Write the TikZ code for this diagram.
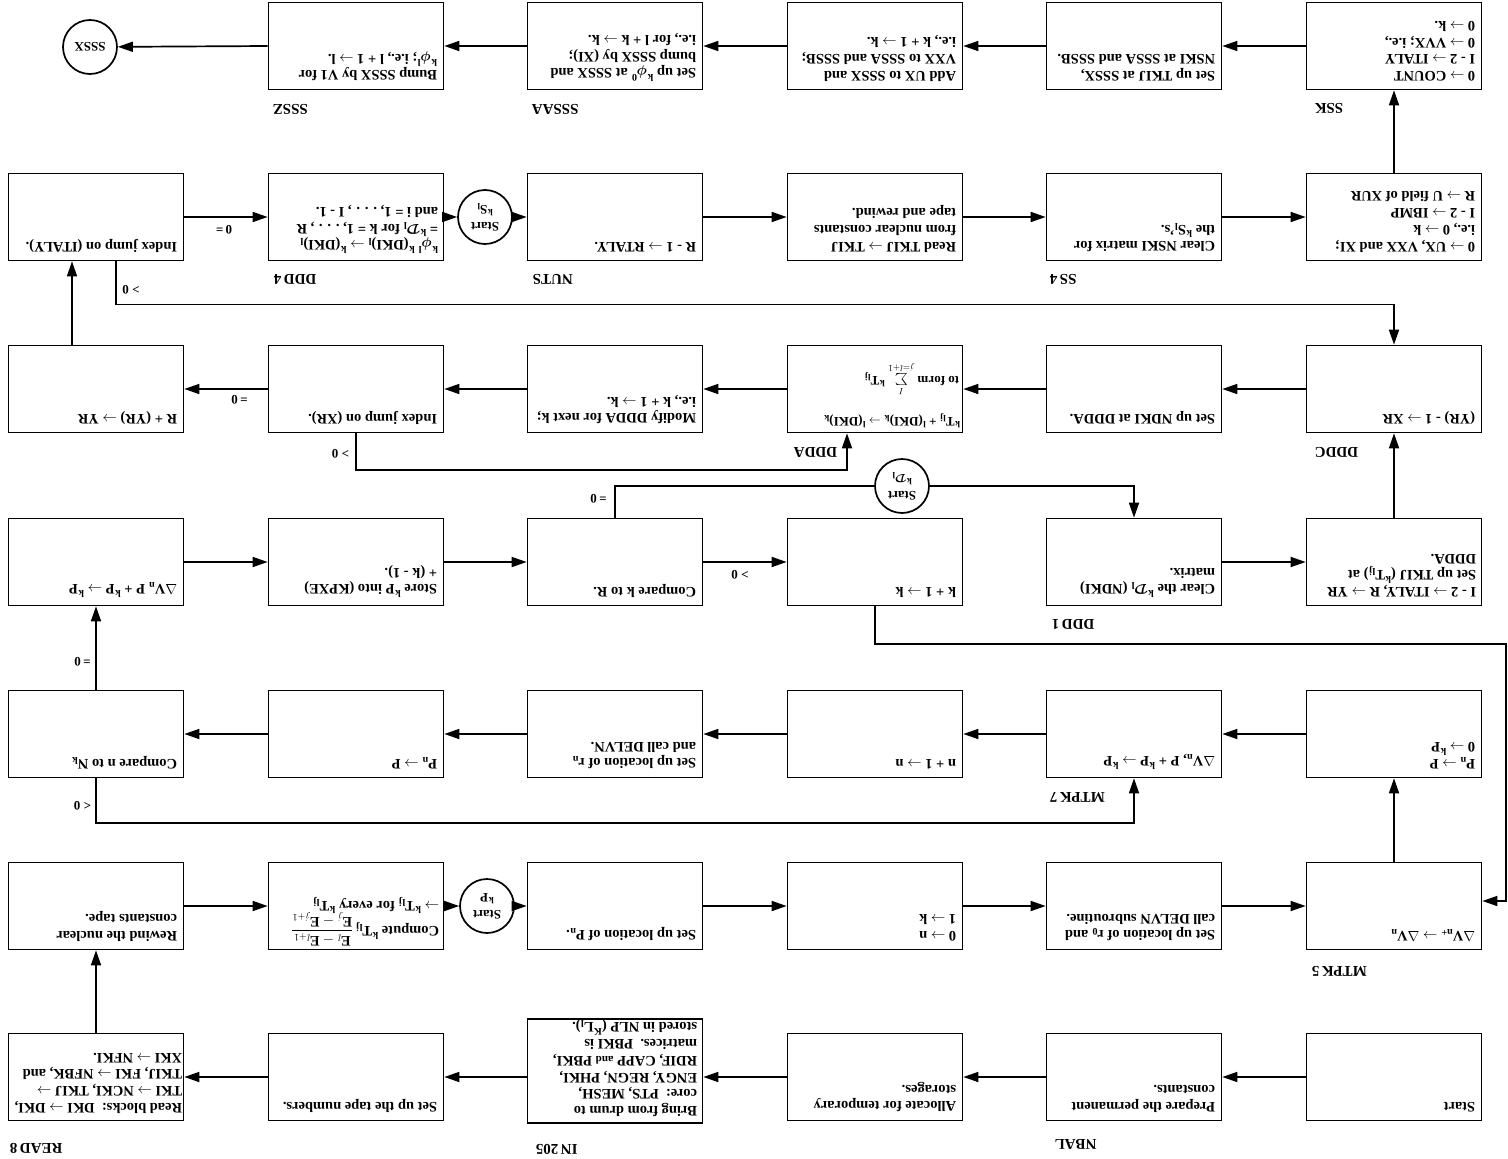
\documentclass[tikz,border=0pt]{standalone}
\usepackage{amsmath}
\usepackage{fontspec}
\setmainfont{Liberation Serif}
\usetikzlibrary{arrows.meta,calc}
\newcommand\myto{\ensuremath{\rightarrow}}
\newcommand\ks{\textsuperscript{k}}
\newcommand\kT{\textsuperscript{k}T\textsubscript{lj}}
\tikzset{
  bx/.style={draw, line width=1.7pt, minimum width=175pt, minimum height=87pt, inner sep=0pt},
  tx/.style={rotate=180, anchor=north west, align=left, inner sep=0pt, font=\bfseries\fontsize{14.5}{16.7}\selectfont},
  lb/.style={rotate=180, anchor=south east, inner sep=0pt, font=\bfseries\fontsize{15}{15}\selectfont},
  cnd/.style={rotate=180, inner sep=0pt, font=\bfseries\fontsize{13}{13}\selectfont},
  crc/.style={draw, circle, line width=1.7pt, minimum size=54pt, inner sep=0pt, fill=white, rotate=180, align=center, font=\bfseries\fontsize{13}{17}\selectfont},
  ln/.style={line width=1.7pt},
  arr/.style={ln, -{Triangle[length=15pt,width=10pt]}}
}
\begin{document}
\begin{tikzpicture}[x=1pt,y=-1pt]
\fill[white] (0,0) rectangle (1508,1159);
\useasboundingbox (0,0) rectangle (1508,1159);

% ---------- row 1 ----------
\node[bx] (sssz) at (356,46) {};
\node[bx] (sssaa) at (615,46) {};
\node[bx] (addux) at (875,46) {};
\node[bx] (sttk) at (1134,46) {};
\node[bx] (ssk) at (1394,46) {};
\node[crc] (sssx) at (90,47) {SSSX};
% ---------- row 2 ----------
\node[bx] (ital) at (96,217) {};
\node[bx] (dd4) at (356,217) {};
\node[crc] (cS) at (485,217) {Start\\\ks S\textsubscript{l}};
\node[bx] (nuts) at (615,217) {};
\node[bx] (rtk) at (875,217) {};
\node[bx] (ss4) at (1134,217) {};
\node[bx] (ux) at (1394,217) {};
% ---------- row 3 ----------
\node[bx] (ryr) at (96,389) {};
\node[bx] (ixr) at (356,389) {};
\node[bx] (mod) at (615,389) {};
\node[bx] (ddda) at (875,389) {};
\node[bx] (ndki) at (1134,389) {};
\node[bx] (ddc) at (1394,389) {};
% ---------- row 4 ----------
\node[bx] (dv) at (96,562) {};
\node[bx] (store) at (356,562) {};
\node[bx] (cmpk) at (615,562) {};
\node[bx] (kk) at (875,562) {};
\node[crc] (cD) at (902,486) {Start\\\ks$\boldsymbol{\mathcal{D}}$\textsubscript{l}};
\node[bx] (dd1) at (1134,562) {};
\node[bx] (itl) at (1394,562) {};
% ---------- row 5 ----------
\node[bx] (cmpn) at (96,734) {};
\node[bx] (pnp) at (356,734) {};
\node[bx] (rn) at (615,734) {};
\node[bx] (n1) at (875,734) {};
\node[bx] (mt7) at (1134,734) {};
\node[bx] (p0) at (1394,734) {};
% ---------- row 6 ----------
\node[bx] (rew) at (96,906) {};
\node[bx] (cmp) at (356,906) {};
\node[crc] (cP) at (487,906) {Start\\\ks P};
\node[bx] (pn) at (615,906) {};
\node[bx] (zn) at (875,906) {};
\node[bx] (r0) at (1134,906) {};
\node[bx] (mt5) at (1394,906) {};
% ---------- row 7 ----------
\node[bx] (read8) at (96,1077) {};
\node[bx] (tape) at (356,1077) {};
\node[bx, minimum height=104pt] (in205) at (615,1071) {};
\node[bx] (alloc) at (875,1077) {};
\node[bx] (prep) at (1134,1077) {};
\node[bx] (start) at (1394,1077) {};

% ---------- connectors ----------
% row 7
\draw[arr] (start.west) -- (prep.east);
\draw[arr] (prep.west) -- (alloc.east);
\draw[arr] (alloc.west) -- (alloc.west -| in205.east);
\draw[arr] (in205.west |- tape.east) -- (tape.east);
\draw[arr] (tape.west) -- (read8.east);
\draw[arr] (read8.north) -- (rew.south);
% row 6
\draw[arr] (rew.east) -- (cmp.west);
\draw[arr] (cmp.east) -- (cP);
\draw[arr] (cP) -- (pn.west);
\draw[arr] (pn.east) -- (zn.west);
\draw[arr] (zn.east) -- (r0.west);
\draw[arr] (r0.east) -- (mt5.west);
\draw[arr] (mt5.north) -- (p0.south);
% row 5
\draw[arr] (p0.west) -- (mt7.east);
\draw[arr] (mt7.west) -- (n1.east);
\draw[arr] (n1.west) -- (rn.east);
\draw[arr] (rn.west) -- (pnp.east);
\draw[arr] (pnp.west) -- (cmpn.east);
\draw[arr] (cmpn.south) -- ++(0,44.5) -| (mt7.south);
\draw[arr] (cmpn.north) -- (dv.south);
% row 4 (circle cD is rotated: its east anchor lies on the picture's left)
\draw[arr] (dv.east) -- (store.west);
\draw[arr] (store.east) -- (cmpk.west);
\draw[arr] (cmpk.east) -- (kk.west);
\draw[ln] (cmpk.north) |- (cD.east);
\draw[arr] (cD.west) -| (dd1.north);
\draw[arr] (dd1.east) -- (itl.west);
\draw[arr] (itl.north) -- (ddc.south);
\draw[arr] (kk.south) -- ++(0,37.5) -| ([xshift=23.5pt,yshift=5pt]mt5.east) -- ([yshift=5pt]mt5.east);
% row 3
\draw[arr] (ddc.west) -- (ndki.east);
\draw[arr] (ndki.west) -- (ddda.east);
\draw[arr] (ddda.west) -- (mod.east);
\draw[arr] (mod.west) -- (ixr.east);
\draw[arr] (ixr.west) -- (ryr.east);
\draw[arr] (ixr.south) -- ++(0,36.5) -| ([xshift=-28pt]ddda.south);
\draw[arr] ([xshift=-24pt]ryr.north) -- ([xshift=-24pt]ital.south);
% row 2
\draw[arr] ([xshift=20pt]ital.south) -- ++(0,43) -| (ddc.north);
\draw[arr] (ital.east) -- (dd4.west);
\draw[arr] (dd4.east) -- (cS);
\draw[arr] (cS) -- (nuts.west);
\draw[arr] (nuts.east) -- (rtk.west);
\draw[arr] (rtk.east) -- (ss4.west);
\draw[arr] (ss4.east) -- (ux.west);
\draw[arr] (ux.north) -- (ssk.south);
% row 1
\draw[arr] (ssk.west) -- (sttk.east);
\draw[arr] (sttk.west) -- (addux.east);
\draw[arr] (addux.west) -- (sssaa.east);
\draw[arr] (sssaa.west) -- (sssz.east);
\draw[arr] (sssz.west) -- (sssx);

% ---------- condition labels ----------
\node[cnd] (q1) at (131,289.5) {> 0};
\node[cnd] (q2) at (224,230) {0\,=};
\node[cnd] (q3) at (239.5,400) {=\,0};
\node[cnd] (q4) at (340.5,454) {> 0};
\node[cnd] (q5) at (740,575) {> 0};
\node[cnd] (q6) at (598.5,498.5) {=\,0};
\node[cnd] (q7) at (82.5,806) {< 0};
\node[cnd] (q8) at (82.5,662) {=\,0};

% ---------- box texts ----------
\node[tx] (tsssz) at ($(sssz.south east)+(-7,-9)$) {Bump SSSX by V1 for\\\ks$\boldsymbol{\phi}$\textsuperscript{l}; i.e., l + 1 \myto{} l.};
\node[tx] (tsssaa) at ($(sssaa.south east)+(-7,-9)$) {Set up \ks$\boldsymbol{\phi}$\textsuperscript{0} at SSSX and\\bump SSSX by (XI);\\i.e., for l + k \myto{} k.};
\node[tx] (taddux) at ($(addux.south east)+(-7,-9)$) {Add UX to SSSX and\\VXX to SSSA and SSSB;\\i.e., k + 1 \myto{} k.};
\node[tx] (tsttk) at ($(sttk.south east)+(-7,-9)$) {Set up TKIJ at SSSX,\\NSKI at SSSA and SSSB.};
\node[tx] (tssk) at ($(ssk.south east)+(-7,-9)$) {0 \myto{} COUNT\\I - 2 \myto{} ITALY\\0 \myto{} VVX; i.e.,\\0 \myto{} k.};

\node[tx] (tital) at ($(ital.south east)+(-7,-9)$) {Index jump on (ITALY).};
\node[tx] (tdd4) at ($(dd4.south east)+(-6,-8)$) {\ks$\boldsymbol{\phi}$\textsuperscript{l} \ks(DKI)\textsubscript{l} \myto{} \ks(DKI)\textsubscript{l}\\= \ks$\boldsymbol{\mathcal{D}}$\textsubscript{l} for k = 1, . . . , R\\and i = 1, . . . , I - 1.};
\node[tx] (tnuts) at ($(nuts.south east)+(-7,-9)$) {R - 1 \myto{} RTALY.};
\node[tx] (trtk) at ($(rtk.south east)+(-7,-9)$) {Read TKIJ \myto{} TKIJ\\from nuclear constants\\tape and rewind.};
\node[tx] (tss4) at ($(ss4.south east)+(-7,-9)$) {Clear NSKI matrix for\\the \ks S\textsubscript{l}'s.};
\node[tx] (tux) at ($(ux.south east)+(-7,-9)$) {0 \myto{} UX, VXX and XI;\\i.e., 0 \myto{} k\\I - 2 \myto{} IBMP\\R \myto{} U field of XUR};

\node[tx] (tryr) at ($(ryr.south east)+(-7,-9)$) {R + (YR) \myto{} YR};
\node[tx] (tixr) at ($(ixr.south east)+(-7,-9)$) {Index jump on (XR).};
\node[tx] (tmod) at ($(mod.south east)+(-7,-9)$) {Modify DDDA for next k;\\i.e., k + 1 \myto{} k.};
\node[tx, font=\bfseries\fontsize{13}{15}\selectfont] (tddda) at ($(ddda.south east)+(-3,-5)$) {\kT{} + \textsuperscript{l}(DKI)\textsubscript{k} \myto{} \textsuperscript{l}(DKI)\textsubscript{k}\\[17pt]\hspace*{1pt}to form\ $\sum\limits_{j=l+1}^{I}$\ \kT};
\node[tx] (tndki) at ($(ndki.south east)+(-7,-9)$) {Set up NDKI at DDDA.};
\node[tx] (tddc) at ($(ddc.south east)+(-7,-9)$) {(YR) - 1 \myto{} XR};

\node[tx] (tdv) at ($(dv.south east)+(-7,-9)$) {$\Delta$V\textsubscript{n} P + \ks P \myto{} \ks P};
\node[tx] (tstore) at ($(store.south east)+(-7,-9)$) {Store \ks P into (KPXE)\\+ (k - 1).};
\node[tx] (tcmpk) at ($(cmpk.south east)+(-7,-9)$) {Compare k to R.};
\node[tx] (tkk) at ($(kk.south east)+(-7,-9)$) {k + 1 \myto{} k};
\node[tx] (tdd1) at ($(dd1.south east)+(-7,-9)$) {Clear the \ks$\boldsymbol{\mathcal{D}}$\textsubscript{l} (NDKI)\\matrix.};
\node[tx] (titl) at ($(itl.south east)+(-6,-9)$) {I - 2 \myto{} ITALY, R \myto{} YR\\Set up TKIJ (\kT) at\\DDDA.};

\node[tx] (tcmpn) at ($(cmpn.south east)+(-7,-9)$) {Compare n to N\textsubscript{k}};
\node[tx] (tpnp) at ($(pnp.south east)+(-7,-9)$) {P\textsubscript{n} \myto{} P};
\node[tx] (trn) at ($(rn.south east)+(-7,-9)$) {Set up location of r\textsubscript{n}\\and call DELVN.};
\node[tx] (tn1) at ($(n1.south east)+(-7,-9)$) {n + 1 \myto{} n};
\node[tx] (tmt7) at ($(mt7.south east)+(-7,-9)$) {$\Delta$V\textsubscript{n}, P + \ks P \myto{} \ks P};
\node[tx] (tp0) at ($(p0.south east)+(-7,-9)$) {P\textsubscript{n} \myto{} P\\0 \myto{} \ks P};

\node[tx] (trew) at ($(rew.south east)+(-7,-9)$) {Rewind the nuclear\\constants tape.};
\node[tx] (tcmp) at ($(cmp.south east)+(-5,-4)$) {Compute \kT\,${\displaystyle\frac{\mathbf{E}_l - \mathbf{E}_{l+1}}{\mathbf{E}_j - \mathbf{E}_{j+1}}}$\\[-2pt]\myto{} \kT{} for every \kT};
\node[tx] (tpn) at ($(pn.south east)+(-7,-9)$) {Set up location of P\textsubscript{n}.};
\node[tx] (tzn) at ($(zn.south east)+(-7,-9)$) {0 \myto{} n\\1 \myto{} k};
\node[tx] (tr0) at ($(r0.south east)+(-7,-9)$) {Set up location of r\textsubscript{0} and\\call DELVN subroutine.};
\node[tx] (tmt5) at ($(mt5.south east)+(-7,-9)$) {$\Delta$V\textsubscript{n+} \myto{} $\Delta$V\textsubscript{n}};

\node[tx] (tread8) at ($(read8.south east)+(-2,-8)$) {Read blocks:\ \ DKI \myto{} DKI,\\TKI \myto{} NCKI, TKIJ \myto{}\\TKIJ, FKI \myto{} NFBK, and\\XKI \myto{} NFKI.};
\node[tx] (ttape) at ($(tape.south east)+(-7,-9)$) {Set up the tape numbers.};
\node[tx] (tin205) at ($(in205.south east)+(-6,-7)$) {Bring from drum to\\core:\ \ PTS, MESH,\\ENGY, REGN, PHKI,\\RDIF, CAPP {\fontsize{11}{11}\selectfont and} PBKI,\\matrices.\ \ PBKI is\\stored in NLP (\textsuperscript{K}L\textsubscript{l}).};
\node[tx] (talloc) at ($(alloc.south east)+(-7,-9)$) {Allocate for temporary\\storages.};
\node[tx] (tprep) at ($(prep.south east)+(-7,-9)$) {Prepare the permanent\\constants.};
\node[tx] (tstart) at ($(start.south east)+(-7,-9)$) {Start};

% ---------- block labels ----------
\node[lb] (lsssz) at ($(sssz.south west)+(5,14)$) {SSSZ};
\node[lb] (lsssaa) at ($(sssaa.south west)+(5,14)$) {SSSAA};
\node[lb] (lssk) at ($(ssk.south west)+(9,13)$) {SSK};
\node[lb] (ldd4) at ($(dd4.south west)+(6,13)$) {DDD\,4};
\node[lb] (lnuts) at ($(nuts.south west)+(6,13)$) {NUTS};
\node[lb] (lss4) at ($(ss4.south west)+(4,13)$) {SS\,4};
\node[lb] (lddda) at ($(ddda.south west)+(7,14)$) {DDDA};
\node[lb] (lddc) at ($(ddc.south west)+(9,14)$) {DDDC};
\node[lb] (ldd1) at ($(dd1.south west)+(6,13)$) {DDD\,1};
\node[lb] (lmt7) at ($(mt7.south west)+(4,14)$) {MTPK\,7};
\node[lb] (lmt5) at ($(mt5.south west)+(6,16)$) {MTPK\,5};
\node[lb] (lread8) at ($(read8.south west)+(2,22)$) {READ\,8};
\node[lb] (lin205) at ($(in205.south west)+(9,20)$) {IN\,205};
\node[lb] (lprep) at ($(prep.south west)+(9,18)$) {NBAL};
\end{tikzpicture}
\end{document}
